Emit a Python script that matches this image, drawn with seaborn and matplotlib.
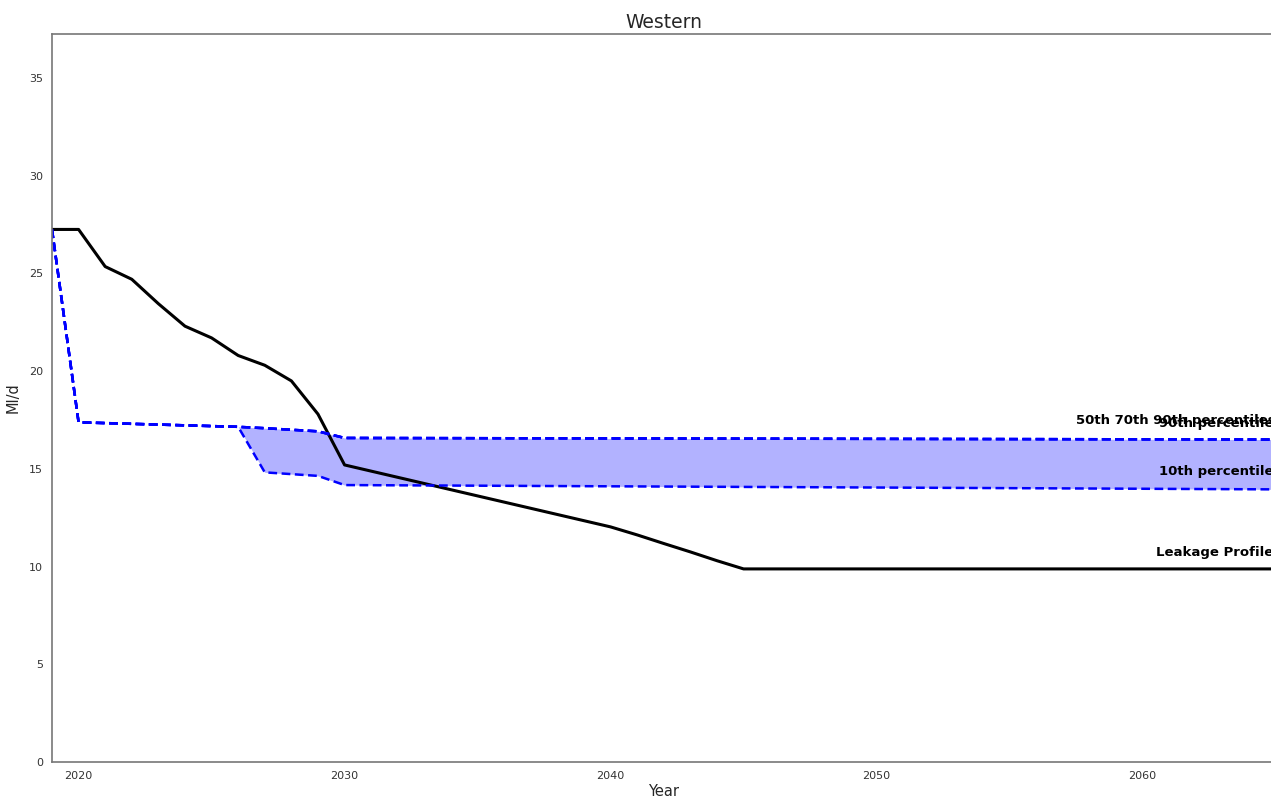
import matplotlib
matplotlib.use('Agg')
import matplotlib.pyplot as plt
import seaborn as sns
import pandas as pd

# Leakage profile (Ml/d)
leak_years = [2019, 2020, 2021, 2022, 2023, 2024, 2025, 2026, 2027, 2028, 2029, 2030,
              2040, 2041, 2042, 2043, 2044, 2045, 2065]
leak_values = [27.25, 27.25, 25.35, 24.7, 23.45, 22.3, 21.7, 20.8, 20.3, 19.5, 17.8, 15.2,
               12.03, 11.62, 11.18, 10.75, 10.3, 9.88, 9.88]

# percentile bands
pct_years = [2019, 2020, 2026, 2027, 2029, 2030, 2065]
p90 = [27.25, 17.38, 17.15, 17.08, 16.92, 16.58, 16.5]
p70 = [27.25, 17.38, 17.15, 17.08, 16.92, 16.58, 16.5]
p50 = [27.25, 17.38, 17.15, 17.08, 16.92, 16.58, 16.5]
p10 = [27.25, 17.38, 17.15, 14.82, 14.64, 14.17, 13.95]

sns.set_style('white')
plt.rcParams['font.family'] = ['DejaVu Sans']

fig = plt.figure(figsize=(12.71, 7.98), dpi=100)
ax = fig.add_axes([0.0409, 0.0451, 0.9627, 0.9123])

sns.lineplot(x=leak_years, y=leak_values, color='black', linewidth=2.2, ax=ax)
for vals in [p50, p70, p90, p10]:
    sns.lineplot(x=pct_years, y=vals, color='blue', linestyle=(0, (3.5, 1.8)), linewidth=1.8, ax=ax)
ax.fill_between(pct_years, p10, p90, color='blue', alpha=0.3, linewidth=0)

lbl = dict(fontsize=9.5, fontweight='bold', color='black')
ax.text(2057.5, 17.3, '50th 70th 90th percentiles', **lbl)
ax.text(2060.6, 17.15, '90th percentile', **lbl)
ax.text(2060.6, 14.7, '10th percentile', **lbl)
ax.text(2060.5, 10.55, 'Leakage Profile', **lbl)

ax.set_xlim(2019, 2065)
ax.set_ylim(0, 37.25)
ax.set_xticks([2020, 2030, 2040, 2050, 2060])
ax.set_yticks([0, 5, 10, 15, 20, 25, 30, 35])
ax.tick_params(axis='both', labelsize=8, length=3, color='#555555', labelcolor='#333333')
for s in ax.spines.values():
    s.set_color('#777777')
    s.set_linewidth(1.2)
ax.set_title('Western', fontsize=13.5, pad=4)
ax.set_xlabel('Year', fontsize=10.5, labelpad=2)
ax.set_ylabel('Ml/d', fontsize=10.5, labelpad=6)

fig.savefig('out.png', dpi=100)
